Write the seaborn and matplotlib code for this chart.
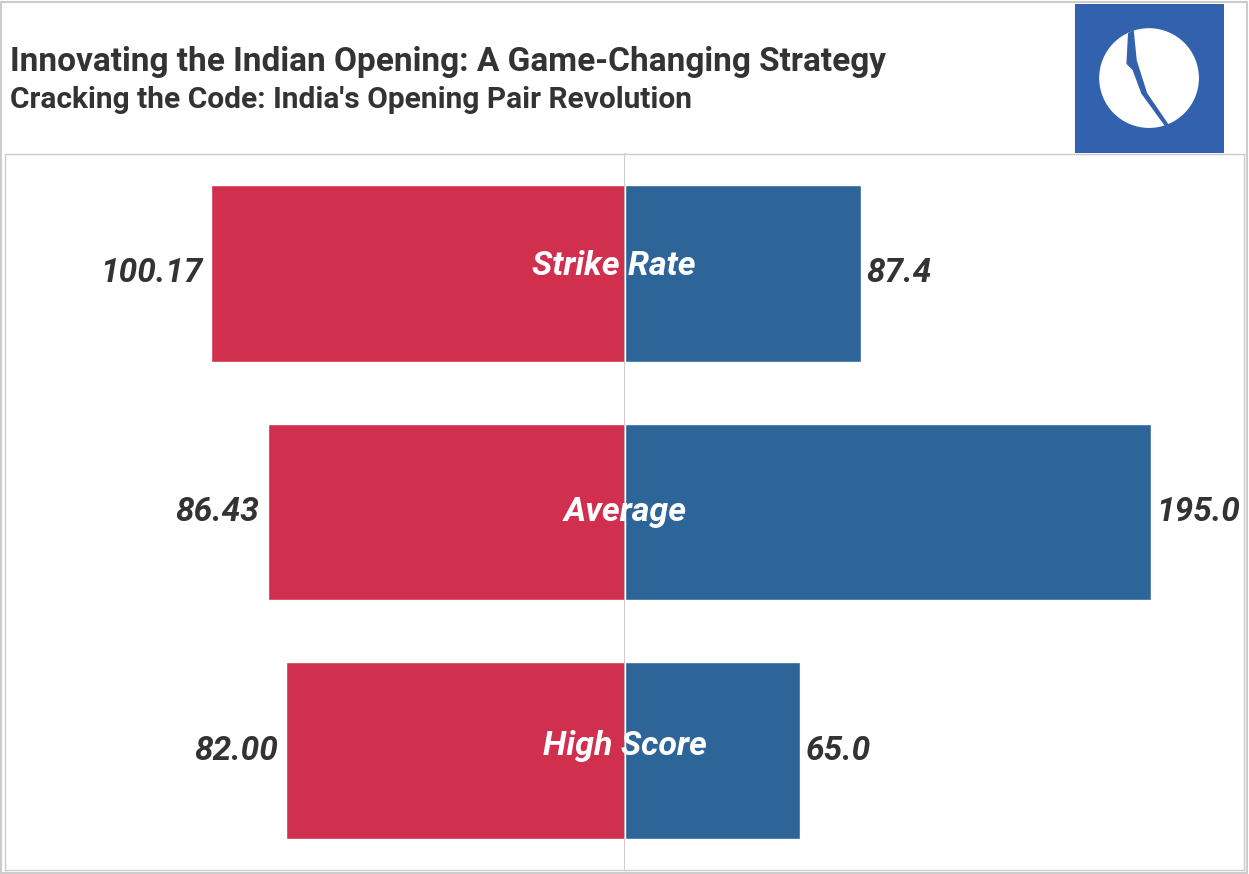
import matplotlib
matplotlib.use("Agg")
import matplotlib.pyplot as plt
import matplotlib.patches as mpatches
import seaborn as sns
import pandas as pd

sns.set_style("white")
plt.rcParams['font.family'] = ['Roboto', 'DejaVu Sans']

metrics = ["Strike Rate", "Average", "High Score"]
left_values = [100.17, 86.43, 82.00]
right_values = [87.4, 195.0, 65.0]
left_labels = ["100.17", "86.43", "82.00"]
right_labels = ["87.4", "195.0", "65.0"]

red = "#D0304E"
blue = "#2E6599"
txt = "#333333"

df = pd.DataFrame({"metric": metrics, "left": left_values, "right": right_values})

fig = plt.figure(figsize=(12.49, 8.74), dpi=100)
W, H = 1249, 874
x0, xm, x1 = 5, 625, 1244
ytop, ybot = 154, 870
b = (H - ybot) / H
h = (ybot - ytop) / H
axL = fig.add_axes([x0 / W, b, (xm - x0) / W, h])
axR = fig.add_axes([xm / W, b, (x1 - xm) / W, h])

sns.barplot(data=df, y="metric", x="left", ax=axL, color=red, width=0.74,
            orient="h", saturation=1)
sns.barplot(data=df, y="metric", x="right", ax=axR, color=blue, width=0.74,
            orient="h", saturation=1)

axL.set_xlim(150, 0)
axR.set_xlim(0, 229.5)
for ax in (axL, axR):
    ax.set_ylim(2.5, -0.5)
    ax.set_xlabel("")
    ax.set_ylabel("")
    ax.set_xticks([])
    ax.set_yticks([])
    for s in ax.spines.values():
        s.set_color("#cccccc")
        s.set_linewidth(1)
axL.spines["right"].set_color("#c8c2cc")
axL.spines["right"].set_linewidth(1.2)
axR.spines["left"].set_visible(False)

# small nudges (label offsets in axis units / pixels)
label_dy = [-0.03, 0.0, -0.02]
label_dx = [-4.3, 0.0, 0.0]
for i in range(len(metrics)):
    axL.text(left_values[i] + 2, i, left_labels[i], ha="right", va="center",
             fontsize=24, fontweight="bold", style="italic", color=txt)
    axR.text(right_values[i] + 2, i, right_labels[i], ha="left", va="center",
             fontsize=24, fontweight="bold", style="italic", color=txt)
    axR.text(label_dx[i], i + label_dy[i], metrics[i], ha="center",
             va="center", fontsize=24.5, fontweight="bold", style="italic",
             color="white", clip_on=False, zorder=5)

fig.text(10 / W, 1 - 62 / H, "Innovating the Indian Opening: A Game-Changing Strategy",
         ha="left", va="center", fontsize=24, fontweight="bold", color=txt)
fig.text(10 / W, 1 - 100 / H, "Cracking the Code: India's Opening Pair Revolution",
         ha="left", va="center", fontsize=21.5, fontweight="bold", color=txt)

# logo
logo = fig.add_axes([1075 / W, 1 - 153 / H, 149 / W, 149 / H])
logo.set_xlim(0, 1)
logo.set_ylim(0, 1)
logo.axis("off")
logo.add_patch(mpatches.Rectangle((0, 0), 1, 1, color="#3262AE"))
logo.add_patch(mpatches.Circle((0.497, 0.503), 0.33, color="white"))
logo.add_patch(mpatches.Polygon([(0.36, 0.80), (0.39, 0.82), (0.41, 0.62), (0.48, 0.40),
                                 (0.63, 0.18), (0.61, 0.18), (0.45, 0.40), (0.39, 0.56),
                                 (0.35, 0.60)], color="#3262AE"))

# outer border
fig.add_artist(mpatches.Rectangle((1 / W, 1 / H), (W - 3) / W, (H - 3) / H,
                                  transform=fig.transFigure, fill=False,
                                  edgecolor="#cccccc", linewidth=1.5))

fig.savefig("out.png", dpi=100)
